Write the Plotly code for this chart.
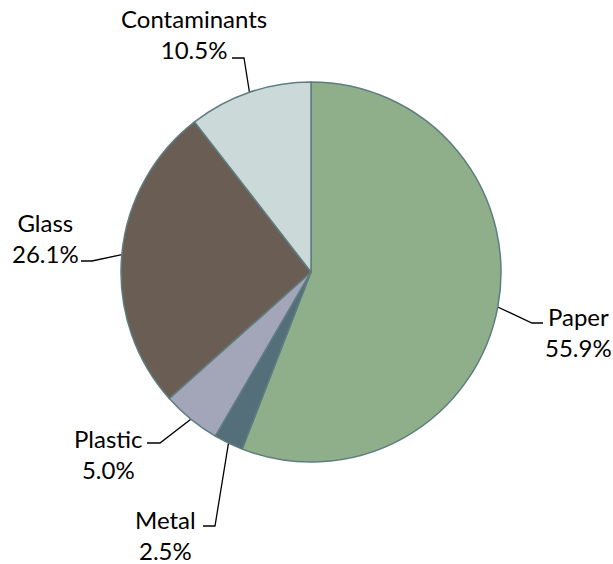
import math
import plotly.graph_objects as go

# Composition of the collected material (share of total, %)
materials = ["Paper", "Metal", "Plastic", "Glass", "Contaminants"]
shares = [55.9, 2.5, 5.0, 26.1, 10.5]
slice_colors = ["#8FAF8B", "#546E7A", "#A2A6B8", "#6A5D54", "#CBD9D9"]

W, H = 613, 564
CX, CY, R = 311, 272, 190          # pie centre and radius in pixels

# Label block centres and leader-line elbows (pixels, y downwards)
label_pos = {
    "Paper": (578, 332),
    "Metal": (165, 535),
    "Plastic": (108, 454),
    "Glass": (45, 238),
    "Contaminants": (194, 34),
}
elbows = {
    "Paper": [(532, 323), (543, 323)],
    "Metal": [(215, 526), (203, 526)],
    "Plastic": [(160, 443), (147, 443)],
    "Glass": [(92, 261), (81, 261)],
    "Contaminants": [(244, 58), (232, 58)],
}

fig = go.Figure()

fig.add_trace(go.Pie(
    labels=materials,
    values=shares,
    sort=False,
    direction="clockwise",
    rotation=0,
    marker=dict(colors=slice_colors, line=dict(color="#5F7D80", width=1.5)),
    textinfo="none",
    hoverinfo="label+percent",
    showlegend=False,
    domain=dict(x=[(CX - R) / W, (CX + R) / W],
                y=[(H - CY - R) / H, (H - CY + R) / H]),
))

# Leader lines start at the rim, at each slice's mid angle
total = sum(shares)
cum = 0.0
for name, v in zip(materials, shares):
    mid = (cum + v / 2) / total * 2 * math.pi
    cum += v
    x0 = CX + R * math.sin(mid)
    y0 = CY - R * math.cos(mid)
    pts = [(x0, y0)] + elbows[name]
    fig.add_trace(go.Scatter(
        x=[p[0] for p in pts], y=[p[1] for p in pts],
        mode="lines", line=dict(color="black", width=1.3),
        hoverinfo="skip", showlegend=False,
    ))
    lx, ly = label_pos[name]
    fig.add_annotation(
        x=lx, y=ly, xref="x", yref="y",
        text=f"{name}<br>{v:.1f}%",
        showarrow=False, align="center",
        font=dict(family="Lato, Calibri, sans-serif", size=24, color="black"),
    )

fig.update_layout(
    width=W, height=H,
    margin=dict(l=0, r=0, t=0, b=0),
    paper_bgcolor="white", plot_bgcolor="rgba(0,0,0,0)",
    xaxis=dict(range=[0, W], visible=False, fixedrange=True),
    yaxis=dict(range=[H, 0], visible=False, fixedrange=True),
)

fig.write_html("out.html")
